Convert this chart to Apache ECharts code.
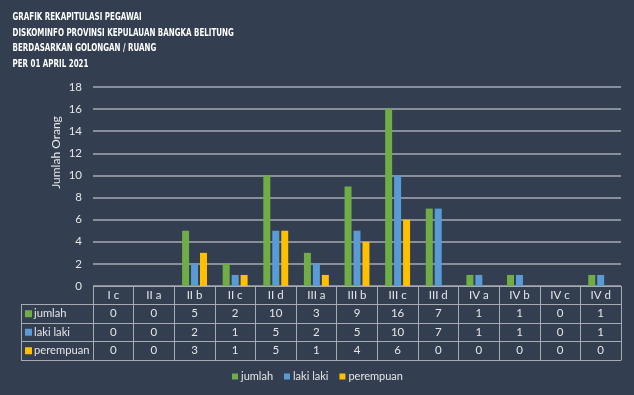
<!DOCTYPE html>
<html><head><meta charset="utf-8">
<script src="https://cdn.jsdelivr.net/npm/echarts@6/dist/echarts.min.js"></script>
<style>html,body{margin:0;padding:0;background:#333E50}#c{width:634px;height:395px}</style>
</head><body><div id="c"></div>
<script>
var titleLines = ['GRAFIK REKAPITULASI PEGAWAI','DISKOMINFO PROVINSI KEPULAUAN BANGKA BELITUNG','BERDASARKAN GOLONGAN / RUANG','PER 01 APRIL 2021'];
var categories = ['I c','II a','II b','II c','II d','III a','III b','III c','III d','IV a','IV b','IV c','IV d'];
var seriesNames = ['jumlah','laki laki','perempuan'];
var jumlah    = [0,0,5,2,10,3,9,16,7,1,1,0,1];
var lakiLaki  = [0,0,2,1,5,2,5,10,7,1,1,0,1];
var perempuan = [0,0,3,1,5,1,4,6,0,0,0,0,0];
var yTicks = {min:0, max:18, interval:2};
var colors = ['#70AD47','#5B9BD5','#FFC000'];
var seriesData = [jumlah, lakiLaki, perempuan];

var lineCol = '#A7AAB0';
var txtCol = '#E6E6E6';
var font = 'Lato';
var chart = echarts.init(document.getElementById('c'));
var rich = {
  b0:{backgroundColor:colors[0],width:7,height:7},
  b1:{backgroundColor:colors[1],width:7,height:7},
  b2:{backgroundColor:colors[2],width:7,height:7},
  t:{color:txtCol,fontFamily:font,fontSize:11.2,padding:[0,0,0,2]}
};
chart.setOption({
  backgroundColor:'#333E50',
  graphic:[{type:'text',x:12.5,y:10,scaleX:0.79,silent:true,
    style:{text:titleLines.join('\n'),fill:'#FFFFFF',font:'bold 10px "DejaVu Sans Condensed", "DejaVu Sans"',lineHeight:15.5}}],
  legend:{data:seriesNames,left:232,top:371,padding:0,itemWidth:6,itemHeight:6,itemGap:11,icon:'rect',
    textStyle:{color:txtCol,fontFamily:font,fontSize:11,padding:[0,0,0,-2]}},
  grid:[
    {left:93,right:13,top:87,height:199},
    {left:93,right:13,top:286,height:74},
    {left:21,width:72,top:304.5,height:55.5}
  ],
  xAxis:[
    {type:'category',gridIndex:0,data:categories,axisLine:{show:false},axisTick:{show:false},
     axisLabel:{interval:0,margin:0,color:txtCol,fontFamily:font,fontSize:11.5,lineHeight:18.5,
       formatter:function(v,i){return [v,jumlah[i],lakiLaki[i],perempuan[i]].join('\n');}}},
    {type:'category',gridIndex:1,data:categories,axisLine:{show:true,lineStyle:{color:lineCol,width:1}},axisTick:{show:false},
     axisLabel:{show:false},splitLine:{show:true,interval:0,lineStyle:{color:lineCol,width:1}}},
    {type:'value',gridIndex:2,min:0,max:1,interval:1,axisLine:{show:false},axisTick:{show:false},axisLabel:{show:false},
     splitLine:{show:true,lineStyle:{color:lineCol,width:1}}}
  ],
  yAxis:[
    {type:'value',gridIndex:0,min:yTicks.min,max:yTicks.max,interval:yTicks.interval,
     name:'Jumlah Orang',nameLocation:'middle',nameGap:31,nameMoveOverlap:false,
     nameTextStyle:{color:txtCol,fontFamily:font,fontSize:12,padding:[0,0,0,68]},
     axisLine:{show:false},axisTick:{show:false},
     axisLabel:{color:txtCol,fontFamily:font,fontSize:11.5,margin:11},
     splitLine:{lineStyle:{color:lineCol,width:1.5}}},
    {type:'value',gridIndex:1,min:0,max:4,interval:1,axisLine:{show:false},axisTick:{show:false},axisLabel:{show:false},
     splitLine:{show:true,lineStyle:{color:lineCol,width:1}}},
    {type:'category',gridIndex:2,inverse:true,data:seriesNames,axisLine:{show:false},axisTick:{show:false},
     splitLine:{show:true,interval:0,lineStyle:{color:lineCol,width:1}},
     axisLabel:{inside:true,margin:4,interval:0,rich:rich,
       formatter:function(v,i){return '{b'+i+'|}{t|'+v+'}';}}}
  ],
  series: seriesNames.map(function(n,k){
    return {name:n,type:'bar',xAxisIndex:0,yAxisIndex:0,data:seriesData[k],barWidth:7,barGap:'28%',
      itemStyle:{color:colors[k]}};
  })
});
</script></body></html>
